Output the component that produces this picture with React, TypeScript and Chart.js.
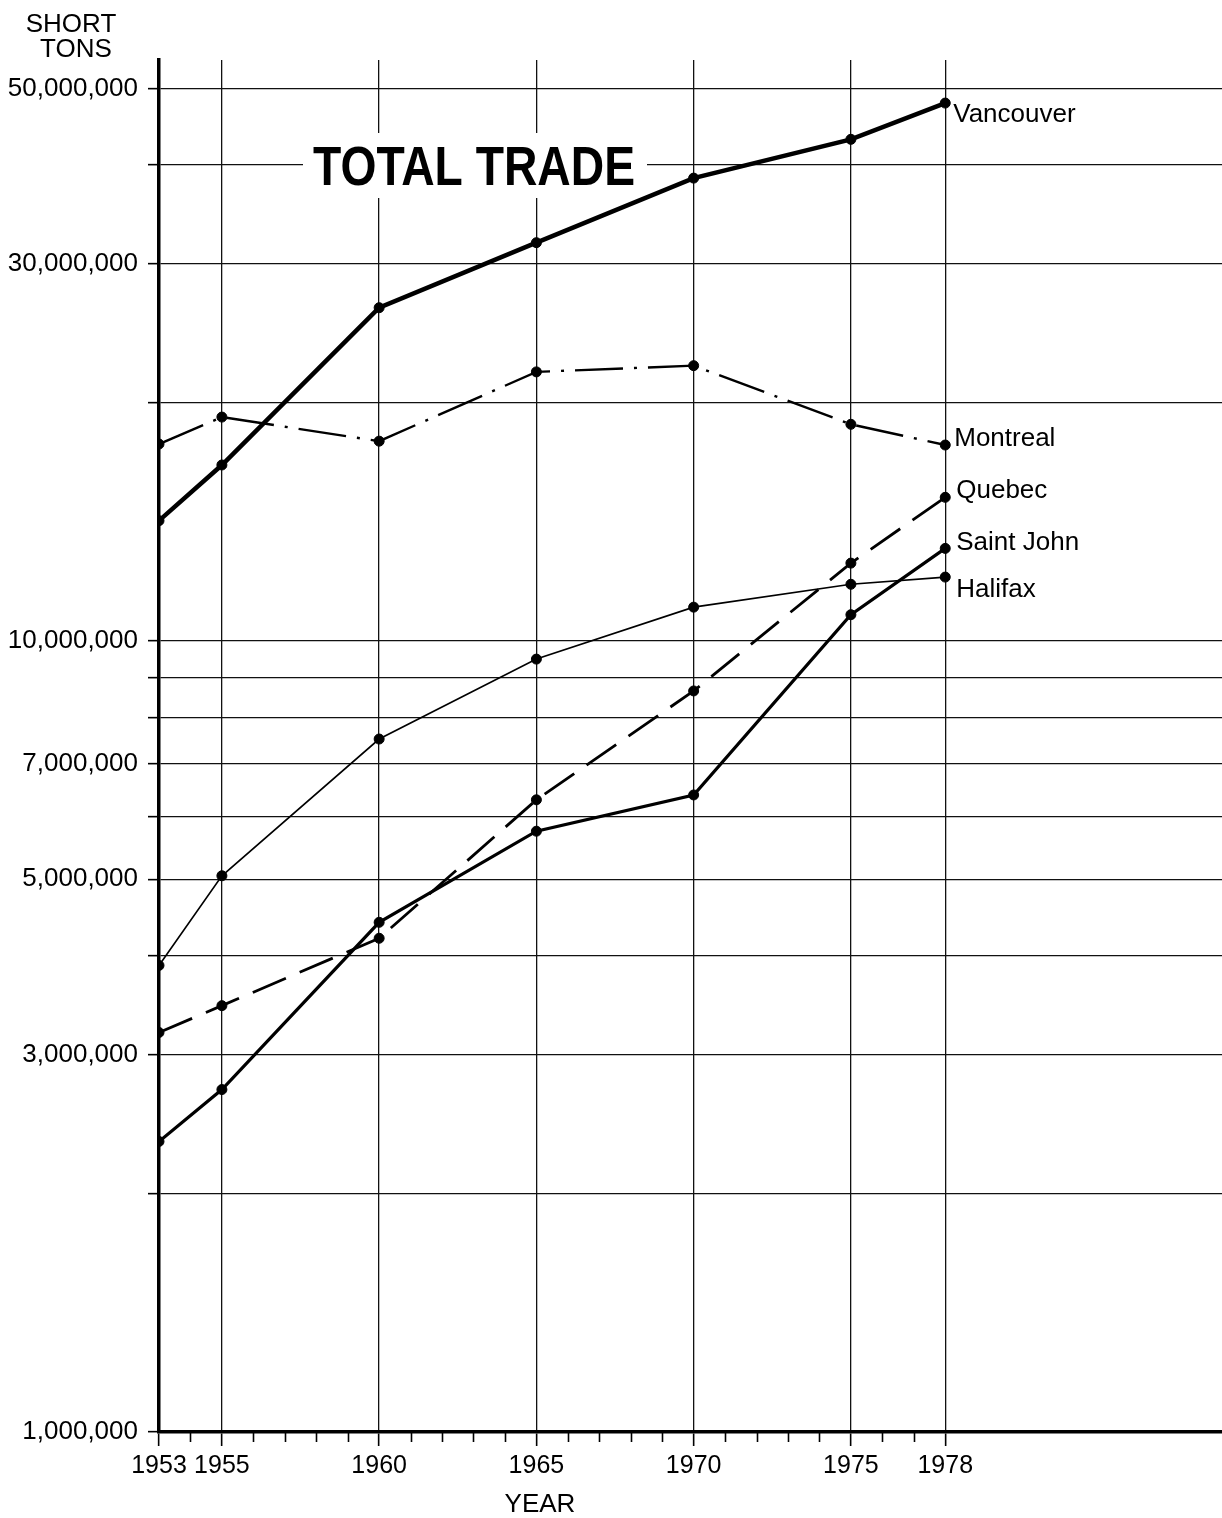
import React, { useEffect, useRef } from "react";
import { Chart, registerables } from "chart.js";

Chart.register(...registerables);

// ---- Data (short tons) ----
const years = [1953, 1955, 1960, 1965, 1970, 1975, 1978];
const vancouver = [14.2e6, 16.7e6, 26.4e6, 31.9e6, 38.5e6, 43.1e6, 47.9e6];
const montreal = [17.75e6, 19.2e6, 17.9e6, 21.9e6, 22.3e6, 18.8e6, 17.7e6];
const quebec = [3.2e6, 3.46e6, 4.21e6, 6.3e6, 8.65e6, 12.55e6, 15.2e6];
const saintJohn = [2.33e6, 2.71e6, 4.41e6, 5.75e6, 6.39e6, 10.8e6, 13.1e6];
const halifax = [3.89e6, 5.05e6, 7.52e6, 9.49e6, 11.04e6, 11.8e6, 12.05e6];

const seriesNames = ["Vancouver", "Montreal", "Quebec", "Saint John", "Halifax"];

const yGridValues = [
  1e6, 2e6, 3e6, 4e6, 5e6, 6e6, 7e6, 8e6, 9e6, 10e6, 20e6, 30e6, 40e6, 50e6,
];
const yLabelValues = [1e6, 3e6, 5e6, 7e6, 10e6, 30e6, 50e6];
const xTickYears = [1953, 1955, 1960, 1965, 1970, 1975, 1978];
const minorTickFirst = 1953;
const minorTickLast = 1978;

const TITLE = "TOTAL TRADE";
const Y_TITLE = ["SHORT", "TONS"];
const X_TITLE = "YEAR";

const FONT = '"Liberation Sans", Arial, Helvetica, sans-serif';

const textPlugin = {
  id: "textPlugin",
  beforeDatasetsDraw(chart: any) {
    const ctx = chart.ctx;
    ctx.save();
    // white box behind title
    ctx.fillStyle = "#fff";
    ctx.fillRect(303, 133, 344, 65);
    ctx.fillStyle = "#000";
    ctx.font = `bold 56px ${FONT}`;
    ctx.textBaseline = "alphabetic";
    ctx.textAlign = "left";
    const w = ctx.measureText(TITLE).width;
    ctx.translate(313, 184.5);
    ctx.scale(322 / w, 1);
    ctx.fillText(TITLE, 0, 0);
    ctx.restore();
  },
  afterDatasetsDraw(chart: any) {
    const ctx = chart.ctx;
    ctx.save();
    ctx.fillStyle = "#000";
    ctx.font = `26px ${FONT}`;
    ctx.textBaseline = "alphabetic";
    ctx.textAlign = "left";
    chart.data.datasets.forEach((ds: any, i: number) => {
      const meta = chart.getDatasetMeta(i);
      const last = meta.data[meta.data.length - 1];
      if (!last) return;
      ctx.fillText(ds.label, last.x + (ds.labelDx || 9), last.y + (ds.labelDy || 0) + 9.5);
    });

    // axis titles
    ctx.textAlign = "center";
    ctx.fillText(Y_TITLE[0], 71, 32);
    ctx.fillText(Y_TITLE[1], 76, 57);
    ctx.fillText(X_TITLE, 540, 1512);

    // minor year ticks
    const xs = chart.scales.x;
    const bottom = chart.chartArea.bottom;
    ctx.strokeStyle = "#000";
    ctx.lineWidth = 1.6;
    for (let yr = minorTickFirst; yr <= minorTickLast; yr++) {
      if (xTickYears.includes(yr)) continue;
      const px = Math.round(xs.getPixelForValue(yr)) + 0.5;
      ctx.beginPath();
      ctx.moveTo(px, bottom);
      ctx.lineTo(px, bottom + 10);
      ctx.stroke();
    }
    ctx.restore();
  },
};

function toPoints(vals: number[]) {
  return years.map((x, i) => ({ x, y: vals[i] }));
}

export default function App() {
  const canvasRef = useRef<HTMLCanvasElement | null>(null);

  useEffect(() => {
    if (!canvasRef.current) return;
    Chart.defaults.font.family = FONT;
    const common = {
      pointRadius: 5,
      pointBorderWidth: 1,
      pointBackgroundColor: "#000",
      pointBorderColor: "#000",
      borderColor: "#000",
      backgroundColor: "#000",
      fill: false,
      tension: 0,
    };
    const chart = new Chart(canvasRef.current, {
      type: "line",
      data: {
        datasets: [
          {
            ...common,
            label: seriesNames[0],
            data: toPoints(vancouver),
            borderWidth: 4.5,
            labelDx: 8,
            labelDy: 9.5,
          } as any,
          {
            ...common,
            label: seriesNames[1],
            data: toPoints(montreal),
            borderWidth: 2.4,
            borderDash: [48, 11, 3, 11],
            labelDx: 9,
            labelDy: -8.5,
          } as any,
          {
            ...common,
            label: seriesNames[2],
            data: toPoints(quebec),
            borderWidth: 2.8,
            borderDash: [36, 15],
            labelDx: 11,
            labelDy: -8.5,
          } as any,
          {
            ...common,
            label: seriesNames[3],
            data: toPoints(saintJohn),
            borderWidth: 3.2,
            labelDx: 11,
            labelDy: -8,
          } as any,
          {
            ...common,
            label: seriesNames[4],
            data: toPoints(halifax),
            borderWidth: 1.6,
            labelDx: 11,
            labelDy: 10,
          } as any,
        ],
      },
      options: {
        animation: false,
        responsive: false,
        devicePixelRatio: 1,
        layout: {
          autoPadding: false,
          padding: { top: 60, left: 0, right: 0, bottom: 0 },
        },
        plugins: {
          legend: { display: false },
          title: { display: false },
          tooltip: { enabled: false },
        },
        scales: {
          x: {
            type: "linear",
            min: 1953,
            max: 1986.8,
            bounds: "data",
            afterBuildTicks: (axis: any) => {
              axis.ticks = xTickYears.map((v) => ({ value: v }));
            },
            afterFit: (axis: any) => {
              axis.height = 86;
              axis.paddingLeft = 0;
              axis.paddingRight = 0;
            },
            ticks: {
              autoSkip: false,
              maxRotation: 0,
              color: "#000",
              padding: 5,
              font: { size: 25, family: FONT },
              callback: (v: any) => String(v),
            },
            grid: {
              color: "#111",
              lineWidth: 1.3,
              tickLength: 14,
              tickWidth: 1.6,
              tickColor: "#000",
            },
            border: { display: true, color: "#000", width: 3.5 },
          },
          y: {
            type: "logarithmic",
            min: 1e6,
            max: 54.3e6,
            bounds: "data",
            afterBuildTicks: (axis: any) => {
              axis.ticks = yGridValues.map((v) => ({ value: v }));
            },
            afterFit: (axis: any) => {
              axis.width = 159;
              axis.paddingTop = 0;
              axis.paddingBottom = 0;
            },
            ticks: {
              autoSkip: false,
              color: "#000",
              padding: 10,
              font: { size: 26, family: FONT },
              callback: (v: any) =>
                yLabelValues.includes(Number(v)) ? Number(v).toLocaleString("en-US") : "",
            },
            grid: {
              color: "#111",
              lineWidth: 1.3,
              tickLength: 11,
              tickWidth: 1.6,
              tickColor: "#000",
            },
            border: { display: true, color: "#000", width: 3.5 },
          },
        },
      } as any,
      plugins: [textPlugin],
    });
    return () => chart.destroy();
  }, []);

  return (
    <div
      style={{
        position: "fixed",
        left: 0,
        top: 0,
        width: 1222,
        height: 1518,
        background: "#fff",
      }}
    >
      <canvas ref={canvasRef} width={1222} height={1518} />
    </div>
  );
}
